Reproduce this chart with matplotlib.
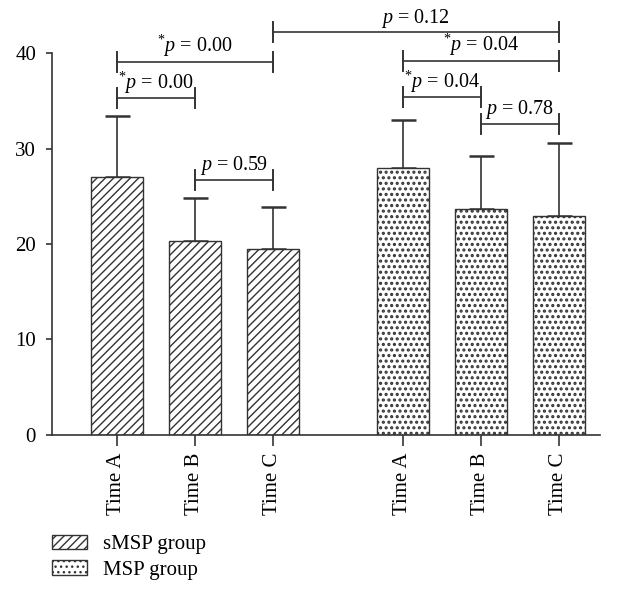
import numpy as np
import matplotlib
matplotlib.use("Agg")
import matplotlib.pyplot as plt
from matplotlib.patches import Patch

# data
times = ["Time A", "Time B", "Time C"]
smsp_mean = [27.0, 20.3, 19.5]
smsp_sd = [6.4, 4.5, 4.4]
msp_mean = [28.0, 23.7, 22.9]
msp_sd = [5.0, 5.5, 7.7]

# comparison brackets: (left bar, right bar, height, p text, significant)
bracket_left = [0, 0, 1, 2, 3, 3, 4]
bracket_right = [1, 2, 2, 5, 4, 5, 5]
bracket_y = [35.3, 39.1, 26.7, 42.2, 35.4, 39.2, 32.6]
bracket_p = ["0.00", "0.00", "0.59", "0.12", "0.04", "0.04", "0.78"]
bracket_sig = [True, True, False, False, True, True, False]

plt.rcParams["font.family"] = ["Liberation Serif", "DejaVu Serif"]
plt.rcParams["mathtext.fontset"] = "custom"
plt.rcParams["mathtext.rm"] = "Liberation Serif"
plt.rcParams["mathtext.it"] = "Liberation Serif:italic"
plt.rcParams["hatch.color"] = "#111111"

EDGE = "#333333"
GROUP_GAP = 3.67
WIDTH = 0.667
FS = 15
HATCH_LINES = "////"
HATCH_DOTS = "..."

fig = plt.figure(figsize=(6.26, 5.90), dpi=100)
ax = fig.add_axes([0.0831, 0.263, 0.8754, 0.647])

x_smsp = np.arange(len(times))
x_msp = np.arange(len(times)) + GROUP_GAP
xs = list(x_smsp) + list(x_msp)

plt.rcParams["hatch.linewidth"] = 1.0
ax.bar(x_smsp, smsp_mean, WIDTH, facecolor="white", edgecolor=EDGE,
       linewidth=1.0, hatch=HATCH_LINES, zorder=2)
h1 = Patch(facecolor="white", edgecolor=EDGE, hatch=HATCH_LINES,
           label="sMSP group")
plt.rcParams["hatch.linewidth"] = 1.5
ax.bar(x_msp, msp_mean, WIDTH, facecolor="white", edgecolor=EDGE,
       linewidth=1.0, hatch=HATCH_DOTS, zorder=2)
h2 = Patch(facecolor="white", edgecolor=EDGE, hatch=HATCH_DOTS,
           label="MSP group")
plt.rcParams["hatch.linewidth"] = 1.0

for xx, m, s in [(x_smsp, smsp_mean, smsp_sd), (x_msp, msp_mean, msp_sd)]:
    ax.errorbar(xx, m, yerr=[np.zeros(len(s)), s], fmt="none", ecolor=EDGE,
                elinewidth=1.2, capsize=9, capthick=1.8, zorder=1)

# significance brackets
tick_half = 1.05
for i1, i2, y, p, sig in zip(bracket_left, bracket_right, bracket_y,
                             bracket_p, bracket_sig):
    x1, x2 = xs[i1], xs[i2]
    ax.plot([x1, x2], [y, y], color=EDGE, lw=1.2, clip_on=False)
    for xe in (x1, x2):
        ax.plot([xe, xe], [y - tick_half, y + tick_half], color=EDGE,
                lw=1.4, clip_on=False)
    label = (r"$^{*}\mathit{p}$ = " if sig else r"$\mathit{p}$ = ") + p
    ax.text((x1 + x2) / 2, y + 1.0, label, ha="center", va="baseline",
            fontsize=14.5, clip_on=False)

ax.set_xlim(-0.834, 6.2)
ax.set_ylim(0, 40)
ax.set_yticks([0, 10, 20, 30, 40])
ax.set_xticks(xs)
ax.set_xticklabels(times * 2, rotation=90, fontsize=FS)
ax.tick_params(axis="y", labelsize=FS, length=4.5, width=1.2,
               color=EDGE, pad=7)
ax.tick_params(axis="x", length=8, width=1.2, color=EDGE, pad=5)
for side in ("top", "right"):
    ax.spines[side].set_visible(False)
for side in ("left", "bottom"):
    ax.spines[side].set_color(EDGE)
    ax.spines[side].set_linewidth(1.2)

fig.legend(handles=[h1, h2], loc="upper left", bbox_to_anchor=(0.083, 0.094),
           frameon=False, fontsize=FS, handlelength=1.7, handleheight=0.7,
           handletextpad=0.75, labelspacing=0.3, borderpad=0,
           borderaxespad=0)

fig.savefig("out.png", dpi=100)
